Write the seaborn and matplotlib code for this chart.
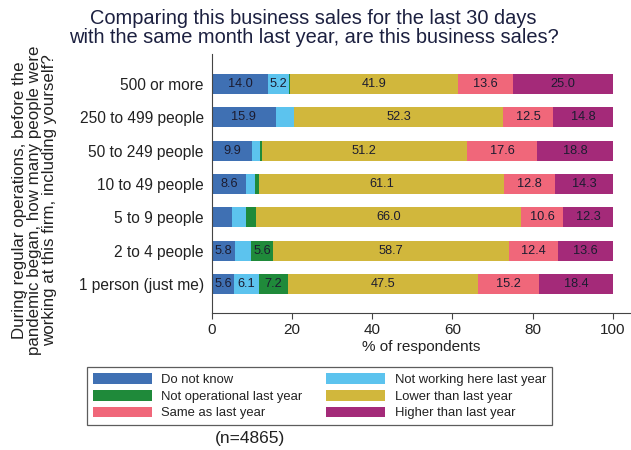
import pandas as pd
import matplotlib
matplotlib.use("Agg")
import matplotlib.pyplot as plt
import seaborn as sns
from matplotlib.patches import Patch

# Data
rows = ["500 or more", "250 to 499 people", "50 to 249 people", "10 to 49 people",
        "5 to 9 people", "2 to 4 people", "1 person (just me)"]
do_not_know = [14.0, 15.9, 9.9, 8.6, 4.9, 5.8, 5.6]
not_working = [5.2, 4.5, 2.0, 2.2, 3.6, 3.9, 6.1]
not_operational = [0.3, 0.0, 0.5, 1.0, 2.6, 5.6, 7.2]
lower = [41.9, 52.3, 51.2, 61.1, 66.0, 58.7, 47.5]
same = [13.6, 12.5, 17.6, 12.8, 10.6, 12.4, 15.2]
higher = [25.0, 14.8, 18.8, 14.3, 12.3, 13.6, 18.4]

categories = ["Do not know", "Not working here last year", "Not operational last year",
              "Lower than last year", "Same as last year", "Higher than last year"]
colors = ["#3f70b3", "#5cc3ee", "#1f8a3a", "#d1b73c", "#f0677a", "#a42a79"]

df = pd.DataFrame({
    "Do not know": do_not_know,
    "Not working here last year": not_working,
    "Not operational last year": not_operational,
    "Lower than last year": lower,
    "Same as last year": same,
    "Higher than last year": higher,
}, index=rows)
df.index.name = "size"
cum = df.cumsum(axis=1)
cum_long = cum.reset_index()

sns.set_theme(style="white")
plt.rcParams['font.family'] = ['Liberation Sans', 'DejaVu Sans']

fig = plt.figure(figsize=(6.31, 4.5), dpi=100)
ax = fig.add_axes([212 / 631, 1 - 313 / 450, (630 - 212) / 631, (313 - 54) / 450])

# stacked bars: draw cumulative totals from the outermost inwards
for cat, col in reversed(list(zip(categories, colors))):
    sns.barplot(data=cum_long, x=cat, y="size", color=col, width=0.6,
                saturation=1, linewidth=0, errorbar=None, ax=ax)

# value labels
for i, r in enumerate(rows):
    for cat in categories:
        v = df.loc[r, cat]
        if v >= 5:
            x = cum.loc[r, cat] - v / 2
            ax.text(x, i, f"{v:.1f}", ha="center", va="center",
                    fontsize=9.2, color="#1c1c30")

ax.set_xlim(0, 104.3)
ax.set_ylim(6.87, -0.9)
ax.set_xticks([0, 20, 40, 60, 80, 100])
ax.set_xlabel("% of respondents", fontsize=11, color="#222222", labelpad=2)
ax.set_ylabel("")
for s in ["top", "right"]:
    ax.spines[s].set_visible(False)
for s in ["left", "bottom"]:
    ax.spines[s].set_color("#444444")
    ax.spines[s].set_linewidth(0.8)
ax.tick_params(axis="x", length=4, width=0.8, color="#444444", labelsize=11,
               labelcolor="#222222", pad=3, bottom=True)
ax.tick_params(axis="y", length=0, labelsize=11.2, labelcolor="#222222", pad=6)

fig.text(0.497, 1 - 9 / 450,
         "Comparing this business sales for the last 30 days\nwith the same month last year, are this business sales?",
         ha="center", va="top", fontsize=14.4, color="#1c2040", linespacing=0.98)

fig.text(35 / 631, 1 - 200 / 450,
         "During regular operations, before the\npandemic began, how many people were\nworking at this firm, including yourself?",
         rotation=90, ha="center", va="center", fontsize=12.2, color="#222222",
         linespacing=1.0, multialignment="center")

handles = [Patch(facecolor=c, edgecolor="none") for c in colors]
order = [0, 2, 4, 1, 3, 5]
leg = fig.legend([handles[k] for k in order], [categories[k] for k in order],
                 loc="upper left", bbox_to_anchor=(87 / 631, 1 - 367 / 450),
                 ncol=2, fontsize=9.4, frameon=True, fancybox=False,
                 handlelength=4.5, handleheight=0.9, handletextpad=0.75,
                 columnspacing=1.8, labelspacing=0.3, borderpad=0.45,
                 borderaxespad=0)
leg.get_frame().set_edgecolor("#333333")
leg.get_frame().set_linewidth(0.9)
for t in leg.get_texts():
    t.set_color("#222222")

fig.text(250 / 631, 1 - 439 / 450, "(n=4865)", ha="center", va="center",
         fontsize=12.5, color="#222222")

fig.savefig("out.png", dpi=100)
